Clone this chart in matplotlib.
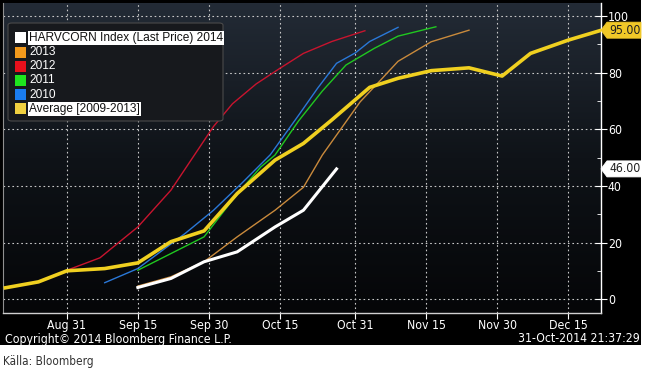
import matplotlib
matplotlib.use('Agg')
import matplotlib.pyplot as plt
import matplotlib.dates as mdates
from matplotlib import font_manager
from matplotlib.patches import Polygon, FancyBboxPatch, Rectangle
from matplotlib.colors import LinearSegmentedColormap
import numpy as np
import pandas as pd
from datetime import datetime

# ---------------- data ----------------
avg_dates = ['2014-08-18', '2014-08-25', '2014-08-31', '2014-09-08', '2014-09-15', '2014-09-22',
             '2014-09-29', '2014-10-06', '2014-10-14', '2014-10-20', '2014-10-26', '2014-11-03',
             '2014-11-09', '2014-11-16', '2014-11-24', '2014-12-01', '2014-12-07', '2014-12-15',
             '2014-12-22']
avg_vals = [4.0, 6.1, 10.0, 10.8, 12.8, 20.3, 24.1, 37.3, 49.1, 55.0, 63.3, 74.8,
            78.0, 80.7, 81.7, 78.8, 86.8, 91.5, 95.0]

y2012_dates = ['2014-08-31', '2014-09-07', '2014-09-15', '2014-09-22', '2014-09-27', '2014-10-01',
               '2014-10-05', '2014-10-10', '2014-10-15', '2014-10-20', '2014-10-26', '2014-11-02']
y2012_vals = [10.2, 14.6, 25.5, 38.5, 51.0, 61.0, 69.0, 76.0, 81.5, 86.8, 91.0, 94.8]

y2010_dates = ['2014-09-08', '2014-09-15', '2014-09-25', '2014-10-01', '2014-10-07', '2014-10-13',
               '2014-10-19', '2014-10-23', '2014-10-27', '2014-10-31', '2014-11-03', '2014-11-09']
y2010_vals = [5.8, 10.8, 23.2, 31.4, 41.0, 51.0, 65.0, 74.5, 83.3, 87.0, 91.0, 96.0]

y2011_dates = ['2014-09-15', '2014-09-22', '2014-09-29', '2014-10-05', '2014-10-11', '2014-10-14',
               '2014-10-19', '2014-10-24', '2014-10-29', '2014-11-04', '2014-11-09', '2014-11-17']
y2011_vals = [10.2, 16.1, 22.0, 35.0, 46.7, 50.9, 63.0, 73.5, 82.7, 88.6, 92.9, 96.2]

y2013_dates = ['2014-09-15', '2014-09-22', '2014-09-29', '2014-10-06', '2014-10-14', '2014-10-20',
               '2014-10-24', '2014-10-28', '2014-11-01', '2014-11-05', '2014-11-09', '2014-11-16',
               '2014-11-24']
y2013_vals = [4.6, 7.9, 13.2, 22.0, 31.4, 39.5, 50.9, 60.3, 69.7, 76.8, 84.0, 90.9, 95.0]

y2014_dates = ['2014-09-15', '2014-09-22', '2014-09-29', '2014-10-06', '2014-10-14', '2014-10-20',
               '2014-10-27']
y2014_vals = [4.1, 7.3, 13.2, 16.7, 25.5, 31.4, 46.0]

tick_dates = ['2014-08-31', '2014-09-15', '2014-09-30', '2014-10-15', '2014-10-31',
              '2014-11-15', '2014-11-30', '2014-12-15']
tick_labels = ['Aug 31', 'Sep 15', 'Sep 30', 'Oct 15', 'Oct 31', 'Nov 15', 'Nov 30', 'Dec 15']
y_ticks = [0, 20, 40, 60, 80, 100]

legend_labels = ['HARVCORN Index (Last Price) 2014', '2013', '2012', '2011', '2010',
                 'Average [2009-2013]']
legend_colors = ['#ffffff', '#f39a1c', '#e8101c', '#1ee41e', '#1a7cf0', '#f0d040']

# ---------------- style ----------------
fl = font_manager.fontManager.ttflist
names = {f.name for f in fl}
cond = [f for f in fl if f.name == 'DejaVu Sans' and str(f.stretch) in ('condensed', 'semi-condensed', '87.5', '75')]
if 'Liberation Sans Narrow' in names:
    NARROW = dict(family=['Liberation Sans Narrow', 'DejaVu Sans'])
elif cond:
    NARROW = dict(family=['DejaVu Sans'], stretch='condensed')
else:
    NARROW = dict(family=['Liberation Sans', 'DejaVu Sans'])
plt.rcParams['font.family'] = NARROW['family']
if 'stretch' in NARROW:
    plt.rcParams['font.stretch'] = NARROW['stretch']
LEG_FONT = ['Liberation Sans', 'DejaVu Sans']

W, H = 645, 373
def fx(x): return x / W
def fy(y): return 1 - y / H

fig = plt.figure(figsize=(W / 100, H / 100), dpi=100)
fig.patch.set_facecolor('white')
fig.add_artist(Rectangle((0, fy(345)), fx(641), 1 - fy(345), transform=fig.transFigure,
                         facecolor='black', edgecolor='none', zorder=0))

ax = fig.add_axes([fx(3), fy(313), fx(601) - fx(3), fy(3) - fy(313)])
ax.set_facecolor('none')
cmap = LinearSegmentedColormap.from_list('bg', ['#050608', '#0f1318', '#232b36'])
grad = np.linspace(0, 1, 256).reshape(-1, 1)
ax.imshow(grad, extent=[0, 1, 0, 1], transform=ax.transAxes, aspect='auto',
          cmap=cmap, origin='lower', zorder=0)

def d(lst):
    return mdates.date2num(pd.to_datetime(lst).to_pydatetime())

ax.plot(d(y2013_dates), y2013_vals, color='#c98a3c', lw=1.0, zorder=3)
ax.plot(d(y2012_dates), y2012_vals, color='#c8142e', lw=1.0, zorder=3)
ax.plot(d(y2011_dates), y2011_vals, color='#20c820', lw=1.0, zorder=3)
ax.plot(d(y2010_dates), y2010_vals, color='#2a78d8', lw=1.0, zorder=3)
ax.plot(d(y2014_dates), y2014_vals, color='#ffffff', lw=2.2, zorder=4)
ax.plot(d(avg_dates), avg_vals, color='#f0d020', lw=2.6, zorder=5)

base = mdates.date2num(datetime(2014, 8, 31))
ax.set_xlim(base - 13.5, base + 112.9)
ax.set_ylim(-4.9, 104.6)

ax.set_xticks(d(tick_dates))
ax.set_xticklabels(tick_labels)
ax.set_yticks(y_ticks)
ax.set_yticks([10, 30, 50, 70, 90], minor=True)
ax.yaxis.tick_right()
ax.grid(True, which='major', color='#c8c8c8', lw=0.8, linestyle=(0, (1.5, 2.5)), zorder=1)
ax.spines['top'].set_visible(False)
ax.spines['left'].set_color('#909090')
ax.spines['left'].set_linewidth(0.8)
ax.spines['bottom'].set_color('#d0d0d0')
ax.spines['right'].set_color('#ffffff')
ax.spines['bottom'].set_linewidth(1.0)
ax.spines['right'].set_linewidth(1.0)
ax.tick_params(axis='x', colors='white', labelcolor='white', labelsize=8.8, length=4,
               direction='out', pad=0.5)
ax.tick_params(axis='y', which='major', colors='white', labelcolor='white', labelsize=8.8,
               length=8, direction='inout', pad=1, right=True, left=False)
ax.tick_params(axis='y', which='minor', colors='white', length=3, direction='in',
               right=True, left=False)

# value tags on right axis
ytr = ax.get_yaxis_transform()
aw = 598.0
ppu = 310.0 / (104.6 + 4.9)
def tag(val, face, edge):
    h = 8.0 / ppu
    tip = 6.0 / aw
    right = 40.0 / aw
    poly = Polygon([(1.0, val), (1 + tip, val + h), (1 + right, val + h),
                    (1 + right, val - h), (1 + tip, val - h)], closed=True,
                   transform=ytr, clip_on=False, facecolor=face, edgecolor=edge,
                   lw=0.6, zorder=10)
    ax.add_patch(poly)
    ax.text(1 + (tip + right) / 2 + 1.0 / aw, val, f'{val:.2f}', transform=ytr,
            ha='center', va='center', fontsize=8.8, color='#202020', zorder=11,
            clip_on=False)

tag(avg_vals[-1], '#f0c828', '#f0c828')
tag(y2014_vals[-1], '#ffffff', '#ffffff')

# legend
fig.add_artist(FancyBboxPatch((fx(8), fy(121)), fx(223) - fx(8), fy(23) - fy(121),
                              boxstyle='round,pad=0,rounding_size=0.006',
                              transform=fig.transFigure, facecolor='#17191d',
                              edgecolor='#4a4a4a', lw=0.8, zorder=20))
rows = [37.7, 52.3, 66.3, 80.3, 94.7, 108.7]
for i, (lab, col) in enumerate(zip(legend_labels, legend_colors)):
    r = rows[i]
    fig.add_artist(Rectangle((fx(15), fy(r + 5.5)), 11 / W, 11 / H, transform=fig.transFigure,
                             facecolor=col, edgecolor='none', zorder=21))
    highlight = (i == 0 or i == len(legend_labels) - 1)
    if highlight:
        fig.text(fx(29), fy(r), lab, ha='left', va='center', fontsize=8.6, color='#111111',
                 family=LEG_FONT, stretch='normal',
                 zorder=22, bbox=dict(facecolor='white', edgecolor='none', pad=0.8))
    else:
        fig.text(fx(29), fy(r), lab, ha='left', va='center', fontsize=8.6, color='white',
                 family=LEG_FONT, stretch='normal', zorder=22)

fig.text(fx(5), fy(339), 'Copyright\u00a9 2014 Bloomberg Finance L.P.', ha='left', va='center',
         fontsize=8.8, color='white', zorder=2)
fig.text(fx(640), fy(339), '31-Oct-2014 21:37:29', ha='right', va='center',
         fontsize=8.8, color='white', zorder=2)
fig.text(fx(3), fy(362), 'K\u00e4lla: Bloomberg', ha='left', va='center',
         fontsize=8.5, color='#333333')

fig.savefig('out.png', dpi=100, facecolor=fig.get_facecolor())
